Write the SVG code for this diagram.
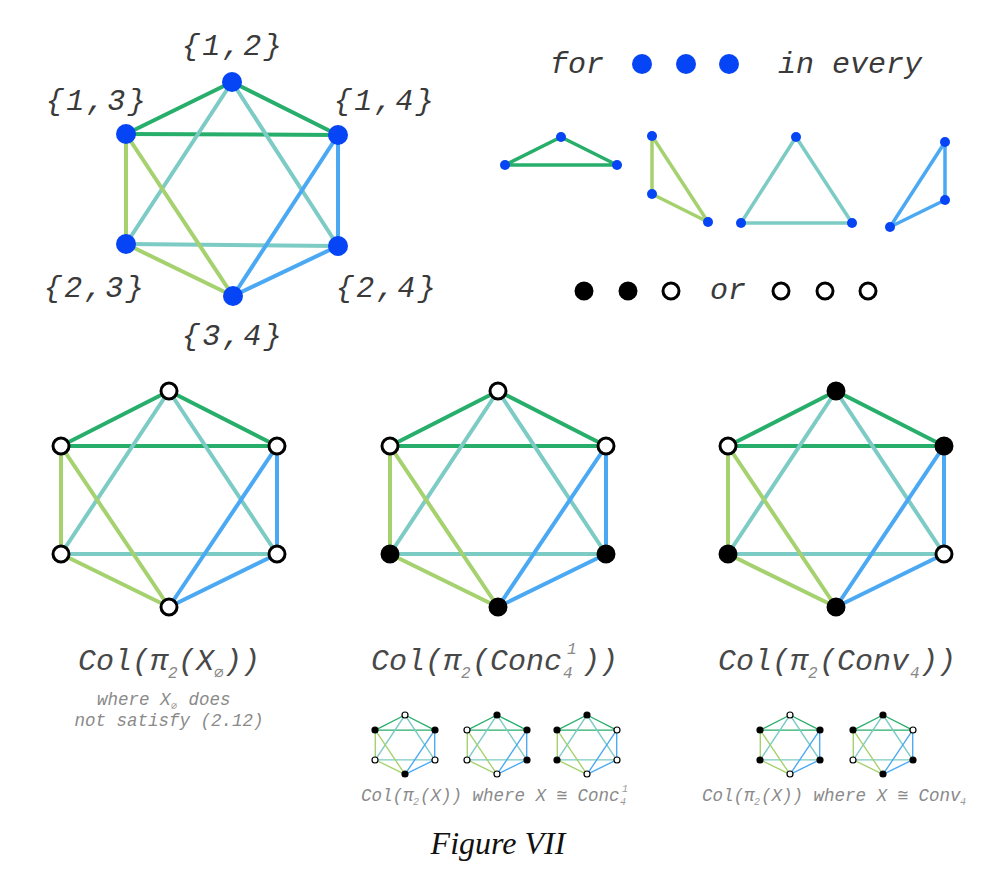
<svg xmlns="http://www.w3.org/2000/svg" xmlns:xlink="http://www.w3.org/1999/xlink" width="1000" height="888" viewBox="0 0 1000 888">
<style>
.c1{stroke:#27ae6b}
.c2{stroke:#a5d16f}
.c3{stroke:#7ccbc4}
.c4{stroke:#4ba9f4}
line{stroke-linecap:round}
.bn{fill:#0645f5}
.w{fill:#fff;stroke:#000}
.b{fill:#000;stroke:#000}
.bigN{stroke-width:3}
.smN{stroke-width:1.2}
.lab{font-family:"Liberation Mono",monospace;font-style:italic;font-size:30px;fill:#3a3a3a}
.set{letter-spacing:2.5px}
.main{font-family:"Liberation Mono",monospace;font-style:italic;font-size:30px;fill:#484848}
.sub{font-size:16px;fill:#888}
.note{font-family:"Liberation Mono",monospace;font-style:italic;font-size:17.5px;fill:#8a8a8a}
.nsub{font-size:10px;fill:#999}
.fig{font-family:"Liberation Serif",serif;font-style:italic;font-size:32px;fill:#111}
</style>
<defs>
<g id="k">
<line class="c1" x1="0" y1="0" x2="-108" y2="55"/>
<line class="c1" x1="0" y1="0" x2="108" y2="55"/>
<line class="c1" x1="-108" y1="55" x2="108" y2="55"/>
<line class="c3" x1="0" y1="0" x2="-108" y2="163"/>
<line class="c3" x1="0" y1="0" x2="108" y2="163"/>
<line class="c3" x1="-108" y1="163" x2="108" y2="163"/>
<line class="c2" x1="-108" y1="55" x2="-108" y2="163"/>
<line class="c2" x1="-108" y1="55" x2="0" y2="216"/>
<line class="c2" x1="-108" y1="163" x2="0" y2="216"/>
<line class="c4" x1="108" y1="55" x2="108" y2="163"/>
<line class="c4" x1="108" y1="55" x2="0" y2="216"/>
<line class="c4" x1="108" y1="163" x2="0" y2="216"/>
</g>
</defs>
<rect width="1000" height="888" fill="#fff"/>

<g id="connectors" fill="none">
  <g id="top-edges" stroke-width="4">
    <line class="c1" x1="232" y1="82" x2="126" y2="134"/>
    <line class="c1" x1="232" y1="82" x2="338" y2="135"/>
    <line class="c1" x1="126" y1="134" x2="338" y2="135"/>
    <line class="c3" x1="232" y1="82" x2="126" y2="244"/>
    <line class="c3" x1="232" y1="82" x2="338" y2="246"/>
    <line class="c3" x1="126" y1="244" x2="338" y2="246"/>
    <line class="c2" x1="126" y1="134" x2="126" y2="244"/>
    <line class="c2" x1="126" y1="134" x2="233" y2="296"/>
    <line class="c2" x1="126" y1="244" x2="233" y2="296"/>
    <line class="c4" x1="338" y1="135" x2="338" y2="246"/>
    <line class="c4" x1="338" y1="135" x2="233" y2="296"/>
    <line class="c4" x1="338" y1="246" x2="233" y2="296"/>
  </g>
  <g id="triangle-edges" stroke-width="3.5" stroke-linejoin="round">
    <polygon class="c1" points="561,137 505,165 617,165"/>
    <polygon class="c2" points="652,136 652,194 708,222"/>
    <polygon class="c3" points="796,137 741,223 852,223"/>
    <polygon class="c4" points="945,142 945,200 890,227"/>
  </g>
  <use xlink:href="#k" href="#k" transform="translate(169,391)" stroke-width="4"/>
  <use xlink:href="#k" href="#k" transform="translate(498,391)" stroke-width="4"/>
  <use xlink:href="#k" href="#k" transform="translate(836,391)" stroke-width="4"/>
  <use xlink:href="#k" href="#k" transform="translate(405,715) scale(0.275)" stroke-width="5"/>
  <use xlink:href="#k" href="#k" transform="translate(497,715) scale(0.275)" stroke-width="5"/>
  <use xlink:href="#k" href="#k" transform="translate(587,715) scale(0.275)" stroke-width="5"/>
  <use xlink:href="#k" href="#k" transform="translate(790,715) scale(0.275)" stroke-width="5"/>
  <use xlink:href="#k" href="#k" transform="translate(883,715) scale(0.275)" stroke-width="5"/>
</g>

<!-- top graph nodes -->
<g id="n12"><circle class="bn" cx="232" cy="82" r="10"/><text class="lab set" x="233" y="55" text-anchor="middle">{1,2}</text></g>
<g id="n13"><circle class="bn" cx="126" cy="134" r="10"/><text class="lab set" x="97" y="110" text-anchor="middle">{1,3}</text></g>
<g id="n14"><circle class="bn" cx="338" cy="135" r="10"/><text class="lab set" x="385" y="110" text-anchor="middle">{1,4}</text></g>
<g id="n23"><circle class="bn" cx="126" cy="244" r="10"/><text class="lab set" x="95" y="297" text-anchor="middle">{2,3}</text></g>
<g id="n24"><circle class="bn" cx="338" cy="246" r="10"/><text class="lab set" x="387" y="297" text-anchor="middle">{2,4}</text></g>
<g id="n34"><circle class="bn" cx="233" cy="296" r="10"/><text class="lab set" x="233" y="345" text-anchor="middle">{3,4}</text></g>

<!-- legend -->
<g id="legend-top">
  <text class="lab" x="550" y="73">for</text>
  <circle class="bn" cx="642" cy="64" r="10"/>
  <circle class="bn" cx="686" cy="64" r="10"/>
  <circle class="bn" cx="729" cy="64" r="10"/>
  <text class="lab" x="778" y="73">in every</text>
</g>
<g id="triangle-nodes">
  <circle class="bn" cx="561" cy="137" r="5"/><circle class="bn" cx="505" cy="165" r="5"/><circle class="bn" cx="617" cy="165" r="5"/>
  <circle class="bn" cx="652" cy="136" r="5"/><circle class="bn" cx="652" cy="194" r="5"/><circle class="bn" cx="708" cy="222" r="5"/>
  <circle class="bn" cx="796" cy="137" r="5"/><circle class="bn" cx="741" cy="223" r="5"/><circle class="bn" cx="852" cy="223" r="5"/>
  <circle class="bn" cx="945" cy="142" r="5"/><circle class="bn" cx="945" cy="200" r="5"/><circle class="bn" cx="890" cy="227" r="5"/>
</g>
<g id="legend-bottom">
  <circle class="b bigN" cx="584" cy="291" r="8"/>
  <circle class="b bigN" cx="628" cy="291" r="8"/>
  <circle class="w bigN" cx="671" cy="291" r="8"/>
  <text class="lab" x="710" y="299">or</text>
  <circle class="w bigN" cx="781" cy="291" r="8"/>
  <circle class="w bigN" cx="825" cy="291" r="8"/>
  <circle class="w bigN" cx="868" cy="291" r="8"/>
</g>

<!-- big graph 1: all white -->
<g id="g1-n12"><circle class="w bigN" cx="169" cy="391" r="8"/></g>
<g id="g1-n13"><circle class="w bigN" cx="61" cy="446" r="8"/></g>
<g id="g1-n14"><circle class="w bigN" cx="277" cy="446" r="8"/></g>
<g id="g1-n23"><circle class="w bigN" cx="61" cy="554" r="8"/></g>
<g id="g1-n24"><circle class="w bigN" cx="277" cy="554" r="8"/></g>
<g id="g1-n34"><circle class="w bigN" cx="169" cy="607" r="8"/></g>

<!-- big graph 2 -->
<g id="g2-n12"><circle class="w bigN" cx="498" cy="391" r="8"/></g>
<g id="g2-n13"><circle class="w bigN" cx="390" cy="446" r="8"/></g>
<g id="g2-n14"><circle class="w bigN" cx="606" cy="446" r="8"/></g>
<g id="g2-n23"><circle class="b bigN" cx="390" cy="554" r="8"/></g>
<g id="g2-n24"><circle class="b bigN" cx="606" cy="554" r="8"/></g>
<g id="g2-n34"><circle class="b bigN" cx="498" cy="607" r="8"/></g>

<!-- big graph 3 -->
<g id="g3-n12"><circle class="b bigN" cx="836" cy="391" r="8"/></g>
<g id="g3-n13"><circle class="w bigN" cx="728" cy="446" r="8"/></g>
<g id="g3-n14"><circle class="b bigN" cx="944" cy="446" r="8"/></g>
<g id="g3-n23"><circle class="b bigN" cx="728" cy="554" r="8"/></g>
<g id="g3-n24"><circle class="w bigN" cx="944" cy="554" r="8"/></g>
<g id="g3-n34"><circle class="b bigN" cx="836" cy="607" r="8"/></g>

<!-- small graphs -->
<g id="sA-nodes">
  <circle class="w smN" cx="405" cy="715" r="3"/><circle class="b smN" cx="375" cy="730" r="3"/><circle class="b smN" cx="435" cy="730" r="3"/>
  <circle class="w smN" cx="375" cy="760" r="3"/><circle class="w smN" cx="435" cy="760" r="3"/><circle class="b smN" cx="405" cy="774" r="3"/>
</g>
<g id="sB-nodes">
  <circle class="b smN" cx="497" cy="715" r="3"/><circle class="w smN" cx="467" cy="730" r="3"/><circle class="b smN" cx="527" cy="730" r="3"/>
  <circle class="w smN" cx="467" cy="760" r="3"/><circle class="b smN" cx="527" cy="760" r="3"/><circle class="w smN" cx="497" cy="774" r="3"/>
</g>
<g id="sC-nodes">
  <circle class="b smN" cx="587" cy="715" r="3"/><circle class="b smN" cx="557" cy="730" r="3"/><circle class="w smN" cx="617" cy="730" r="3"/>
  <circle class="b smN" cx="557" cy="760" r="3"/><circle class="w smN" cx="617" cy="760" r="3"/><circle class="w smN" cx="587" cy="774" r="3"/>
</g>
<g id="sD-nodes">
  <circle class="w smN" cx="790" cy="715" r="3"/><circle class="b smN" cx="760" cy="730" r="3"/><circle class="b smN" cx="820" cy="730" r="3"/>
  <circle class="b smN" cx="760" cy="760" r="3"/><circle class="b smN" cx="820" cy="760" r="3"/><circle class="w smN" cx="790" cy="774" r="3"/>
</g>
<g id="sE-nodes">
  <circle class="b smN" cx="883" cy="715" r="3"/><circle class="b smN" cx="853" cy="730" r="3"/><circle class="w smN" cx="913" cy="730" r="3"/>
  <circle class="w smN" cx="853" cy="760" r="3"/><circle class="b smN" cx="913" cy="760" r="3"/><circle class="b smN" cx="883" cy="774" r="3"/>
</g>

<!-- labels -->
<g id="label1">
  <text class="main" y="670"><tspan x="78">Col(π</tspan><tspan class="sub" x="168" y="678">2</tspan><tspan x="178" y="670">(X</tspan><tspan class="sub" x="214" y="678">∅</tspan><tspan x="224" y="670">))</tspan></text>
  <text class="note" y="705"><tspan x="97">where X</tspan><tspan class="nsub" x="171" y="709">∅</tspan><tspan x="178" y="705"> does</tspan></text>
  <text class="note" x="169" y="726" text-anchor="middle">not satisfy (2.12)</text>
</g>
<g id="label2">
  <text class="main" y="670"><tspan x="371">Col(π</tspan><tspan class="sub" x="461" y="678">2</tspan><tspan x="472" y="670">(Conc</tspan><tspan class="sub" x="563" y="678">4</tspan><tspan class="sub" x="567" y="654">1</tspan><tspan x="582" y="670">))</tspan></text>
</g>
<g id="label3">
  <text class="main" y="670"><tspan x="718">Col(π</tspan><tspan class="sub" x="808" y="678">2</tspan><tspan x="819" y="670">(Conv</tspan><tspan class="sub" x="910" y="678">4</tspan><tspan x="920" y="670">))</tspan></text>
</g>
<g id="label-small-1">
  <text class="note" y="801"><tspan x="361">Col(π</tspan><tspan class="nsub" x="413" y="805">2</tspan><tspan x="420" y="801">(X)) where X ≅ Conc</tspan><tspan class="nsub" x="620" y="805">4</tspan><tspan class="nsub" x="622" y="792">1</tspan></text>
</g>
<g id="label-small-2">
  <text class="note" y="801"><tspan x="702">Col(π</tspan><tspan class="nsub" x="754" y="805">2</tspan><tspan x="761" y="801">(X)) where X ≅ Conv</tspan><tspan class="nsub" x="960" y="805">4</tspan></text>
</g>
<text class="fig" x="498" y="854" text-anchor="middle">Figure VII</text>
</svg>
